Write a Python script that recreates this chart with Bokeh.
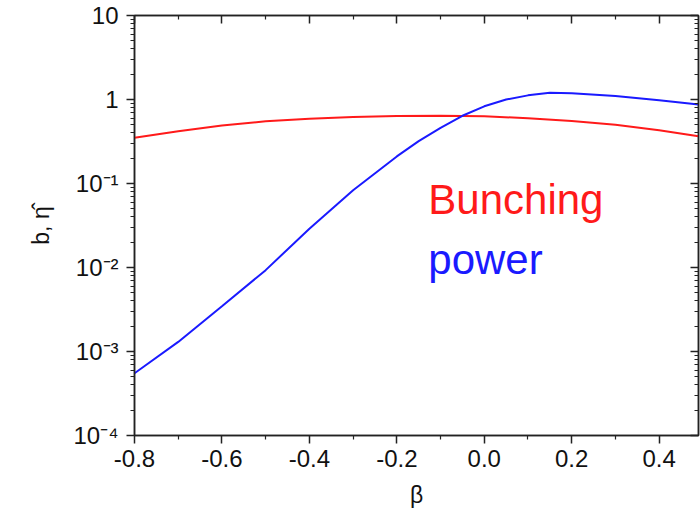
from bokeh.plotting import figure
from bokeh.models import Range1d, LinearAxis, LogAxis, Label, FixedTicker, LogTicker
from bokeh.embed import file_html
from bokeh.resources import INLINE

# beta values sampled along the curves
beta_bunch = [-0.8, -0.7, -0.6, -0.5, -0.4, -0.3, -0.2, -0.1, 0.0, 0.1, 0.2, 0.3, 0.4, 0.49]
bunching = [0.35, 0.42, 0.49, 0.55, 0.59, 0.62, 0.635, 0.64, 0.63, 0.60, 0.555, 0.50, 0.43, 0.365]

beta_power = [-0.8, -0.7, -0.6, -0.5, -0.4, -0.3, -0.2, -0.15, -0.1, -0.05, 0.0, 0.05, 0.1, 0.15, 0.2, 0.3, 0.4, 0.49]
power = [5.5e-4, 1.3e-3, 3.45e-3, 9.3e-3, 0.029, 0.083, 0.21, 0.32, 0.46, 0.64, 0.83, 1.0, 1.12, 1.2, 1.19, 1.10, 0.98, 0.87]

x_ticks = [-0.8, -0.6, -0.4, -0.2, 0.0, 0.2, 0.4]
x_minor = [-0.7, -0.5, -0.3, -0.1, 0.1, 0.3]
x_tick_labels = ["-0.8", "-0.6", "-0.4", "-0.2", "0.0", "0.2", "0.4"]
y_ticks = [1e-4, 1e-3, 1e-2, 1e-1, 1, 10]
y_tick_labels = ["10\u207b\u2074", "10\u207b\u00b3", "10\u207b\u00b2", "10\u207b\u00b9", "1", "10"]

FONT = "Liberation Sans"
RED = "#ff1a1a"
BLUE = "#1a1aff"

p = figure(width=700, height=516, y_axis_type="log",
           x_range=Range1d(-0.8, 0.49), y_range=Range1d(1e-4, 10),
           output_backend="svg", toolbar_location=None,
           min_border_left=134, min_border_right=2, min_border_top=15, min_border_bottom=81)
p.grid.visible = False
p.outline_line_color = "#222222"
p.outline_line_width = 1.5
p.background_fill_color = "white"
p.border_fill_color = "white"

# bottom axis
xa = p.xaxis[0]
xa.ticker = FixedTicker(ticks=x_ticks, minor_ticks=x_minor)
xa.major_label_overrides = {t: s for t, s in zip(x_ticks, x_tick_labels)}
xa.axis_label = "\u03b2"

# left axis; the title carries a circumflex accent
ya = p.yaxis[0]
ya.ticker = LogTicker(num_minor_ticks=10)
ya.major_label_overrides = {t: s for t, s in zip(y_ticks, y_tick_labels)}
ya.axis_label = "b, \u03b7\u0302"

for ax in (xa, ya):
    ax.axis_line_color = "#222222"
    ax.axis_line_width = 1.5
    ax.major_tick_line_color = "#222222"
    ax.minor_tick_line_color = "#222222"
    ax.major_tick_line_width = 1.5
    ax.minor_tick_line_width = 1.2
    ax.major_tick_in = 0
    ax.major_tick_out = 8
    ax.minor_tick_in = 0
    ax.minor_tick_out = 4
    ax.major_label_text_font = FONT
    ax.major_label_text_font_size = "24px"
    ax.major_label_text_color = "#111111"
    ax.axis_label_text_font = FONT
    ax.axis_label_text_font_size = "23px"
    ax.axis_label_text_font_style = "normal"
    ax.axis_label_text_color = "#111111"

xa.major_label_standoff = 6
xa.axis_label_standoff = 12
ya.major_label_standoff = 8
ya.axis_label_standoff = 16

# mirrored axes on top and right with inward ticks and no labels
top = LinearAxis(ticker=FixedTicker(ticks=x_ticks, minor_ticks=x_minor))
right = LogAxis(ticker=LogTicker(num_minor_ticks=10))
for ax in (top, right):
    ax.major_label_text_font_size = "1px"
    ax.major_label_text_color = None
    ax.major_label_standoff = 0
    ax.axis_line_color = "#222222"
    ax.axis_line_width = 1.5
    ax.major_tick_line_color = "#222222"
    ax.minor_tick_line_color = "#222222"
    ax.major_tick_line_width = 1.5
    ax.minor_tick_line_width = 1.2
    ax.major_tick_in = 8
    ax.major_tick_out = 0
    ax.minor_tick_in = 4
    ax.minor_tick_out = 0
p.add_layout(top, "above")
p.add_layout(right, "right")

p.line(beta_bunch, bunching, line_color=RED, line_width=2)
p.line(beta_power, power, line_color=BLUE, line_width=2)

p.add_layout(Label(x=-0.128, y=0.0343, text="Bunching", text_color=RED,
                   text_font=FONT, text_font_size="42px"))
p.add_layout(Label(x=-0.128, y=0.0066, text="power", text_color=BLUE,
                   text_font=FONT, text_font_size="42px"))

open("out.html", "w").write(file_html(p, INLINE))
